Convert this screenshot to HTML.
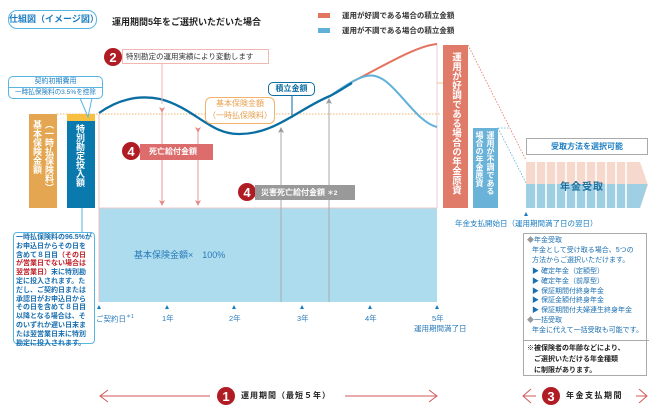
<!DOCTYPE html>
<html><head><meta charset="utf-8"><style>
body{margin:0;width:660px;height:420px;background:#fff;position:relative;overflow:hidden;font-family:"Liberation Sans","Noto Sans CJK JP",sans-serif;}
.a{position:absolute;white-space:nowrap;}
.v{writing-mode:vertical-rl;position:absolute;color:#fff;font-weight:bold;}
</style></head><body>
<svg width="660" height="420" style="position:absolute;left:0;top:0">
<defs>
<marker id="ar" markerWidth="6" markerHeight="6" refX="3" refY="3" orient="auto"><path d="M0,0L6,3L0,6L1.5,3z" fill="#e88a8a"/></marker>
<marker id="ag" markerWidth="6" markerHeight="6" refX="3" refY="3" orient="auto"><path d="M0,0L6,3L0,6L1.5,3z" fill="#999"/></marker>
</defs>
<rect x="99" y="208" width="338" height="94" fill="#acdcee"/>
<line x1="99" y1="114" x2="99" y2="302" stroke="#f0c0c0" stroke-width="1"/>
<line x1="437" y1="44" x2="437" y2="208" stroke="#e6d0d0" stroke-width="1"/>
<line x1="99" y1="208" x2="437" y2="208" stroke="#f0c8c8" stroke-width="1"/>
<line x1="57" y1="114" x2="440" y2="114" stroke="#f3b26b" stroke-width="1" stroke-dasharray="1.5,1.5"/>
<rect x="29" y="114" width="28" height="94" fill="#e4a650"/>
<rect x="67" y="114" width="28" height="7" fill="#f8c040"/>
<rect x="67" y="121" width="28" height="87" fill="#0a79ad"/>
<line x1="82" y1="208" x2="82" y2="232" stroke="#57b6e2" stroke-width="1"/>
<path d="M350,83 C380,68 415,46 437,44" fill="none" stroke="#e4735f" stroke-width="2"/>
<path d="M330,96 C350,82 365,73 375,76 C395,80 415,122 437,127" fill="none" stroke="#5fb1da" stroke-width="2"/>
<path d="M99,113 C120,98 140,95 160,99 C195,108 210,135 240,134 C275,134 300,108 330,96 C340,91 345,87 352,83" fill="none" stroke="#0b6ea3" stroke-width="2.3"/>
<line x1="162" y1="63" x2="162" y2="104" stroke="#f0b0b0" stroke-width="1"/>
<line x1="162" y1="110" x2="162" y2="203" stroke="#e89a9a" stroke-width="1" marker-start="url(#ar)" marker-end="url(#ar)"/>
<line x1="198" y1="130" x2="198" y2="203" stroke="#e89a9a" stroke-width="1" marker-start="url(#ar)" marker-end="url(#ar)"/>
<line x1="281" y1="302" x2="281" y2="130" stroke="#aaa" stroke-width="1" marker-end="url(#ag)"/>
<line x1="329" y1="302" x2="329" y2="101" stroke="#aaa" stroke-width="1" marker-end="url(#ag)"/>
<line x1="292" y1="95" x2="292" y2="118" stroke="#0b6ea3" stroke-width="1"/>
<path d="M80,98 L88,117 L92,98" fill="#fff" stroke="#57b6e2" stroke-width="1"/>
<line x1="468" y1="45" x2="526" y2="160" stroke="#e4735f" stroke-width="0.8" stroke-dasharray="1.5,1.5"/>
<line x1="498" y1="128" x2="526" y2="183" stroke="#5fb1da" stroke-width="0.8" stroke-dasharray="1.5,1.5"/>
<line x1="498" y1="128" x2="510" y2="128" stroke="#5fb1da" stroke-width="0.8" stroke-dasharray="1.5,1.5"/>
<line x1="437" y1="83" x2="443" y2="83" stroke="#f3b26b" stroke-width="0.8"/>
<path d="M526,162 H640 L648,185 L640,208 H526 Z" fill="#f6d8cc"/>
<path d="M526,184 H647.6 L640,208 H526 Z" fill="#9fcfe3"/>
<g stroke="#fff" stroke-width="1.6">
<line x1="536" y1="162" x2="536" y2="208"/><line x1="546" y1="162" x2="546" y2="208"/><line x1="556" y1="162" x2="556" y2="208"/><line x1="566" y1="162" x2="566" y2="208"/><line x1="576" y1="162" x2="576" y2="208"/><line x1="586" y1="162" x2="586" y2="208"/><line x1="596" y1="162" x2="596" y2="208"/><line x1="606" y1="162" x2="606" y2="208"/><line x1="616" y1="162" x2="616" y2="208"/><line x1="626" y1="162" x2="626" y2="208"/>
</g>
<g fill="#1a7cc0">
<path d="M97,309 L99,305 L101,309Z"/><path d="M165,309 L167,305 L169,309Z"/><path d="M232,309 L234,305 L236,309Z"/><path d="M300,309 L302,305 L304,309Z"/><path d="M368,309 L370,305 L372,309Z"/><path d="M435,309 L437,305 L439,309Z"/><path d="M524,216 L526,212 L528,216Z"/>
</g>
<rect x="318" y="13" width="12" height="5" fill="#e4735f"/>
<rect x="318" y="28" width="12" height="5" fill="#5fb1da"/>
<line x1="100" y1="396" x2="210" y2="396" stroke="#d05a5a" stroke-width="1"/>
<path d="M108,390 L100,396 L108,402" fill="none" stroke="#d05a5a" stroke-width="1"/>
<line x1="345" y1="396" x2="437" y2="396" stroke="#d05a5a" stroke-width="1"/>
<path d="M429,390 L437,396 L429,402" fill="none" stroke="#d05a5a" stroke-width="1"/>
<path d="M531,389 L523,396 L531,403 M523,396 H536" fill="none" stroke="#d05a5a" stroke-width="1"/>
<path d="M639,389 L647,396 L639,403 M636,396 H647" fill="none" stroke="#d05a5a" stroke-width="1"/>
<g fill="#b01c24">
<circle cx="113" cy="57" r="9"/><circle cx="131" cy="151" r="9"/><circle cx="247" cy="192" r="9"/><circle cx="226" cy="396" r="9"/><circle cx="551" cy="396" r="9"/>
</g>
<g fill="#fff" font-size="13" font-weight="bold" text-anchor="middle" font-family="Liberation Sans,sans-serif">
<text x="113" y="62">2</text><text x="131" y="156">4</text><text x="247" y="197">4</text><text x="226" y="401">1</text><text x="551" y="401">3</text>
</g>
</svg>

<div class="a" style="left:8px;top:10px;width:87px;height:17px;border:1.5px solid #57b6e2;border-radius:9px;color:#1a7cc0;font-size:9px;font-weight:bold;line-height:17px;text-align:center">仕組図（イメージ図）</div>
<div class="a" style="left:112px;top:15px;font-size:9px;font-weight:bold;color:#222">運用期間5年をご選択いただいた場合</div>
<div class="a" style="left:342px;top:10px;font-size:7.5px;color:#333;font-weight:bold">運用が好調である場合の積立金額</div>
<div class="a" style="left:342px;top:25px;font-size:7.5px;color:#333;font-weight:bold">運用が不調である場合の積立金額</div>

<div class="a" style="left:8px;top:76px;width:93px;height:21px;border:1px solid #57b6e2;border-radius:5px;background:#fff;color:#1a7cc0;font-size:7px;text-align:center;line-height:10px">契約初期費用<br><span style="border-top:1px solid #57b6e2;display:block;font-size:6.6px">一時払保険料の3.5%を控除</span></div>

<div class="v" style="left:31px;top:120px;height:88px;font-size:9px;line-height:12px">（一時払保険料）<br>基本保険金額</div>
<div class="v" style="left:74px;top:124px;font-size:9px;line-height:12px">特別勘定投入額</div>

<div class="a" style="left:13px;top:232px;width:76px;height:108px;border:1px solid #57b6e2;border-radius:4px;padding:1px 2px;font-size:7px;line-height:8.8px;color:#1a6fb0;font-weight:bold;white-space:normal">一時払保険料の96.5%がお申込日からその日を含めて８日目<span style="color:#c0202a">（その日が営業日でない場合は翌営業日）</span>末に特別勘定に投入されます。ただし、ご契約日または承認日がお申込日からその日を含めて８日目以降となる場合は、そのいずれか遅い日末または翌営業日末に特別勘定に投入されます。</div>

<div class="a" style="left:122px;top:49px;width:142px;height:13px;border:1px solid #f0b8b0;background:#fff;font-size:7.5px;line-height:13px;color:#333;padding-left:3px">特別勘定の運用実績により変動します</div>
<div class="a" style="left:140px;top:144px;width:73px;height:16px;background:#dd6c6c;color:#fff;font-size:8px;font-weight:bold;line-height:16px;padding-left:9px;box-sizing:border-box">死亡給付金額</div>
<div class="a" style="left:255px;top:185px;width:100px;height:15px;background:#999;color:#fff;font-size:8px;font-weight:bold;line-height:15px;padding-left:6px;box-sizing:border-box">災害死亡給付金額 <span style="font-size:6.5px">＊2</span></div>
<div class="a" style="left:268px;top:82px;width:45px;height:12px;border:1.5px solid #0b6ea3;border-radius:5px;background:#fff;color:#0b6ea3;font-size:8px;font-weight:bold;line-height:12px;text-align:center">積立金額</div>
<div class="a" style="left:205px;top:97px;width:68px;height:25px;border:1px solid #f3b26b;border-radius:6px;background:#fff;color:#e8a050;font-size:8px;line-height:12px;text-align:center">基本保険金額<br>（一時払保険料）</div>

<div class="a" style="left:134px;top:248px;font-size:9px;color:#2a7ab8">基本保険金額×　100%</div>

<div class="a" style="left:96px;top:313px;font-size:7.5px;color:#2a7ab8">ご契約日<sup style="font-size:5px">＊1</sup></div>
<div class="a" style="left:162px;top:313px;font-size:7.5px;color:#2a7ab8">1年</div>
<div class="a" style="left:229px;top:313px;font-size:7.5px;color:#2a7ab8">2年</div>
<div class="a" style="left:297px;top:313px;font-size:7.5px;color:#2a7ab8">3年</div>
<div class="a" style="left:365px;top:313px;font-size:7.5px;color:#2a7ab8">4年</div>
<div class="a" style="left:432px;top:313px;font-size:7.5px;color:#2a7ab8">5年</div>
<div class="a" style="left:414px;top:323px;font-size:7.5px;color:#2a7ab8">運用期間満了日</div>

<div style="position:absolute;left:443px;top:45px;width:25px;height:163px;background:#e07b6a"></div>
<div class="v" style="left:449px;top:52px;font-size:9.5px;line-height:13px">運用が好調である場合の年金原資</div>
<div style="position:absolute;left:473px;top:128px;width:25px;height:80px;background:#6ab2d8"></div>
<div class="v" style="left:474px;top:131px;font-size:8px;line-height:11px">運用が不調である<br>場合の年金原資</div>

<div class="a" style="left:526px;top:138px;width:120px;height:15px;border:1px solid #aaa;background:#fff;color:#1a7cc0;font-size:8px;font-weight:bold;line-height:15px;text-align:center">受取方法を選択可能</div>
<div class="a" style="left:560px;top:178px;font-size:10px;font-weight:bold;color:#1a6fa0;letter-spacing:1px">年金受取</div>
<div class="a" style="left:455px;top:218px;font-size:7.5px;color:#1a7cc0">年金支払開始日（運用期間満了日の翌日）</div>

<div class="a" style="left:523px;top:233px;width:122px;height:141px;border:1px solid #aaa;font-size:7px;line-height:9.9px;color:#1a6fb0">
<div style="padding:2px 0 0 3px"><span style="color:#999">◆</span>年金受取<br>
<div style="padding-left:5px">年金として受け取る場合、5つの<br>方法からご選択いただけます。<br>
<div style="margin-top:1px">▶ 確定年金（定額型）<br>▶ 確定年金（前厚型）<br>▶ 保証期間付終身年金<br>▶ 保証金額付終身年金<br>▶ 保証期間付夫婦連生終身年金</div></div>
<span style="color:#999">◆</span>一括受取<br><div style="padding-left:5px">年金に代えて一括受取も可能です。</div></div>
<div style="position:absolute;left:0;top:106px;width:122px;border-top:1px solid #aaa;padding:2px 0 0 3px;color:#222;font-weight:bold;line-height:11px">※被保険者の年齢などにより、<br>　ご選択いただける年金種類<br>　に制限があります。</div>
</div>

<div class="a" style="left:241px;top:390px;font-size:8px;font-weight:bold;color:#222;letter-spacing:1px">運用期間（最短５年）</div>
<div class="a" style="left:566px;top:390px;font-size:8px;font-weight:bold;color:#222;letter-spacing:1.5px">年金支払期間</div>
</body></html>
